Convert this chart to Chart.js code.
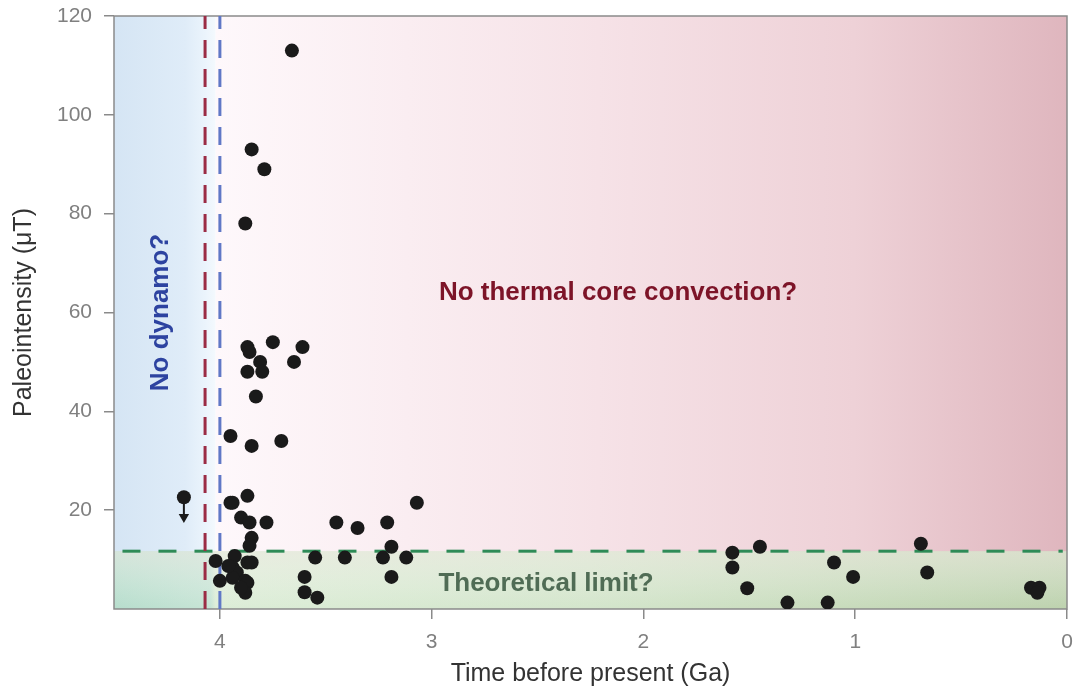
<!DOCTYPE html>
<html>
<head>
<meta charset="utf-8">
<script src="https://cdn.jsdelivr.net/npm/chart.js@4.4.0/dist/chart.umd.min.js"></script>
<style>
html, body { margin: 0; padding: 0; background: #fff; }
#wrap { width: 1076px; height: 689px; position: relative; }
</style>
</head>
<body>
<div id="wrap"><canvas id="paleoChart"></canvas></div>
<script>
// Paleointensity measurements (age in Ga, field in microtesla)
const ageGa = [
    3.66, 3.85, 3.79, 3.88, 3.75, 3.61, 3.87, 3.86, 3.81, 3.65, 3.87, 3.80, 3.83,
    3.95, 3.71, 3.85, 4.17, 3.95, 3.94, 3.87, 3.90, 3.86, 3.78, 3.45, 3.35, 3.21,
    3.07, 3.85, 3.86, 3.19, 4.02, 3.93, 3.87, 3.85, 3.94, 3.92, 4.00, 3.94, 3.88,
    3.87, 3.88, 3.90, 3.96, 3.55, 3.41, 3.23, 3.12, 3.60, 3.19, 3.60, 3.54,
    1.58, 1.45, 1.58, 1.51, 1.32, 1.13, 1.10, 1.01, 0.69, 0.66, 0.17, 0.13, 0.14
];
const intensityUT = [
    113, 93, 89, 78, 54, 53, 53, 52, 50, 50, 48, 48, 43,
    35, 34, 33, 22.6, 21.5, 21.5, 22.9, 18.5, 17.5, 17.5, 17.5, 16.4, 17.5,
    21.5, 14.4, 12.8, 12.6, 9.7, 10.7, 9.4, 9.4, 8.4, 7.4, 5.7, 6.3, 5.7,
    5.3, 3.3, 4.3, 8.7, 10.4, 10.4, 10.4, 10.4, 6.5, 6.5, 3.4, 2.3,
    11.4, 12.6, 8.4, 4.2, 1.3, 1.3, 9.4, 6.5, 13.2, 7.4, 4.3, 4.3, 3.3
];

// upper-limit arrow on the oldest point
const upperLimitAge = [4.17, 4.17];
const upperLimitValue = [22.6, 18.6];

// reference lines and zones
const redLineAge = 4.07;
const blueLineAge = 4.0;
const limitValue = 11.7;
const noDynamoEnd = 4.02;

const xTicks = [0, 1, 2, 3, 4];
const yTicks = [20, 40, 60, 80, 100, 120];
const xRange = [0, 4.5];
const yRange = [0, 120];

const labels = {
    noDynamo: 'No dynamo?',
    noConvection: 'No thermal core convection?',
    limit: 'Theoretical limit?'
};

const pts = ageGa.map((a, i) => ({ x: a, y: intensityUT[i] }));
const arrowPts = upperLimitAge.map((a, i) => ({ x: a, y: upperLimitValue[i] }));

const panelsPlugin = {
    id: 'panels',
    beforeDraw(chart) {
        const { ctx, chartArea: a, scales: { x, y } } = chart;
        const xs = x.getPixelForValue(noDynamoEnd);
        const yb = y.getPixelForValue(limitValue);
        ctx.save();

        // blue zone
        let g = ctx.createLinearGradient(a.left, 0, xs, 0);
        g.addColorStop(0, '#d5e5f4');
        g.addColorStop(0.7, '#dfecf8');
        g.addColorStop(0.9, '#ebf4fc');
        g.addColorStop(1, '#f4f9fd');
        ctx.fillStyle = g;
        ctx.fillRect(a.left, a.top, xs - a.left, a.bottom - a.top);

        // pink zone
        g = ctx.createLinearGradient(xs, 0, a.right, 0);
        g.addColorStop(0, '#fef8fb');
        g.addColorStop(0.45, '#f6e2e7');
        g.addColorStop(0.75, '#eed1d7');
        g.addColorStop(1, '#dfb6be');
        ctx.fillStyle = g;
        ctx.fillRect(xs, a.top, a.right - xs, a.bottom - a.top);

        // green band
        g = ctx.createLinearGradient(a.left, 0, a.right, 0);
        const f = (xs - a.left) / (a.right - a.left);
        g.addColorStop(0, '#b6ddcc');
        g.addColorStop(f * 0.95, '#c6e4d5');
        g.addColorStop(f, '#dcedd7');
        g.addColorStop(0.5, '#d3e5cb');
        g.addColorStop(1, '#bdd2ae');
        ctx.fillStyle = g;
        ctx.fillRect(a.left, yb, a.right - a.left, a.bottom - yb);
        g = ctx.createLinearGradient(0, yb, 0, a.bottom);
        g.addColorStop(0, 'rgba(245,235,232,0.5)');
        g.addColorStop(1, 'rgba(255,255,255,0)');
        ctx.fillStyle = g;
        ctx.fillRect(a.left, yb, a.right - a.left, a.bottom - yb);

        // frame
        ctx.strokeStyle = '#8a8a8a';
        ctx.lineWidth = 1.5;
        ctx.strokeRect(a.left, a.top, a.right - a.left, a.bottom - a.top);

        // annotations
        ctx.font = 'bold 26px "Liberation Sans", Arial, sans-serif';
        ctx.textAlign = 'center';
        ctx.textBaseline = 'middle';
        ctx.fillStyle = '#7d1428';
        ctx.fillText(labels.noConvection, x.getPixelForValue(2.12), y.getPixelForValue(64));
        ctx.fillStyle = '#506c55';
        ctx.fillText(labels.limit, x.getPixelForValue(2.46), y.getPixelForValue(5.1));
        ctx.save();
        ctx.translate(x.getPixelForValue(4.28), y.getPixelForValue(60));
        ctx.rotate(-Math.PI / 2);
        ctx.fillStyle = '#2d43a0';
        ctx.fillText(labels.noDynamo, 0, 0);
        ctx.restore();

        ctx.restore();
    }
};

const tickFont = { family: '"Liberation Sans", Arial, sans-serif', size: 21 };
const titleFont = { family: '"Liberation Sans", Arial, sans-serif', size: 25 };

new Chart(document.getElementById('paleoChart'), {
    type: 'scatter',
    data: {
        datasets: [
            {
                label: 'Paleointensity',
                data: pts,
                backgroundColor: '#1a1a1a',
                borderWidth: 0,
                pointRadius: 7
            },
            {
                label: 'Upper limit',
                data: arrowPts,
                showLine: true,
                borderColor: '#1a1a1a',
                borderWidth: 2,
                backgroundColor: '#1a1a1a',
                pointStyle: 'triangle',
                pointRotation: 180,
                pointRadius: [0, 4]
            },
            {
                label: 'Red line',
                data: [{ x: redLineAge, y: yRange[0] }, { x: redLineAge, y: yRange[1] }],
                showLine: true,
                borderColor: '#9b2c45',
                borderWidth: 3,
                borderDash: [18, 11],
                pointRadius: 0
            },
            {
                label: 'Blue line',
                data: [{ x: blueLineAge, y: yRange[0] }, { x: blueLineAge, y: yRange[1] }],
                showLine: true,
                borderColor: '#6078c6',
                borderWidth: 3,
                borderDash: [18, 11],
                pointRadius: 0
            },
            {
                label: 'Limit',
                data: [{ x: 4.46, y: limitValue }, { x: 0.02, y: limitValue }],
                showLine: true,
                borderColor: '#2e8b57',
                borderWidth: 3,
                borderDash: [18, 18],
                pointRadius: 0
            }
        ]
    },
    options: {
        responsive: true,
        maintainAspectRatio: false,
        animation: false,
        layout: { padding: { top: 16, right: 9, left: 0, bottom: 0 } },
        plugins: {
            legend: { display: false },
            tooltip: { enabled: false }
        },
        scales: {
            x: {
                type: 'linear',
                reverse: true,
                min: xRange[0],
                max: xRange[1],
                afterBuildTicks: (s) => { s.ticks = xTicks.map(v => ({ value: v })); },
                afterFit: (s) => { s.height = 80; s.paddingLeft = 0; s.paddingRight = 0; },
                ticks: { color: '#808080', font: tickFont, padding: 11 },
                grid: { drawOnChartArea: false, drawTicks: true, tickLength: 10, color: '#8a8a8a', lineWidth: 1.5 },
                border: { display: false },
                title: {
                    display: true,
                    text: 'Time before present (Ga)',
                    color: '#333',
                    font: titleFont,
                    padding: { top: 0, bottom: 0 }
                }
            },
            y: {
                type: 'linear',
                min: yRange[0],
                max: yRange[1],
                afterBuildTicks: (s) => { s.ticks = yTicks.map(v => ({ value: v })); },
                afterFit: (s) => { s.width = 114; s.paddingTop = 0; s.paddingBottom = 0; },
                ticks: { color: '#808080', font: tickFont, padding: 12 },
                grid: { drawOnChartArea: false, drawTicks: true, tickLength: 10, color: '#8a8a8a', lineWidth: 1.5 },
                border: { display: false },
                title: {
                    display: true,
                    text: 'Paleointensity (μT)',
                    color: '#333',
                    font: titleFont,
                    padding: { top: 9, bottom: 0 }
                }
            }
        }
    },
    plugins: [panelsPlugin]
});
</script>
</body>
</html>
